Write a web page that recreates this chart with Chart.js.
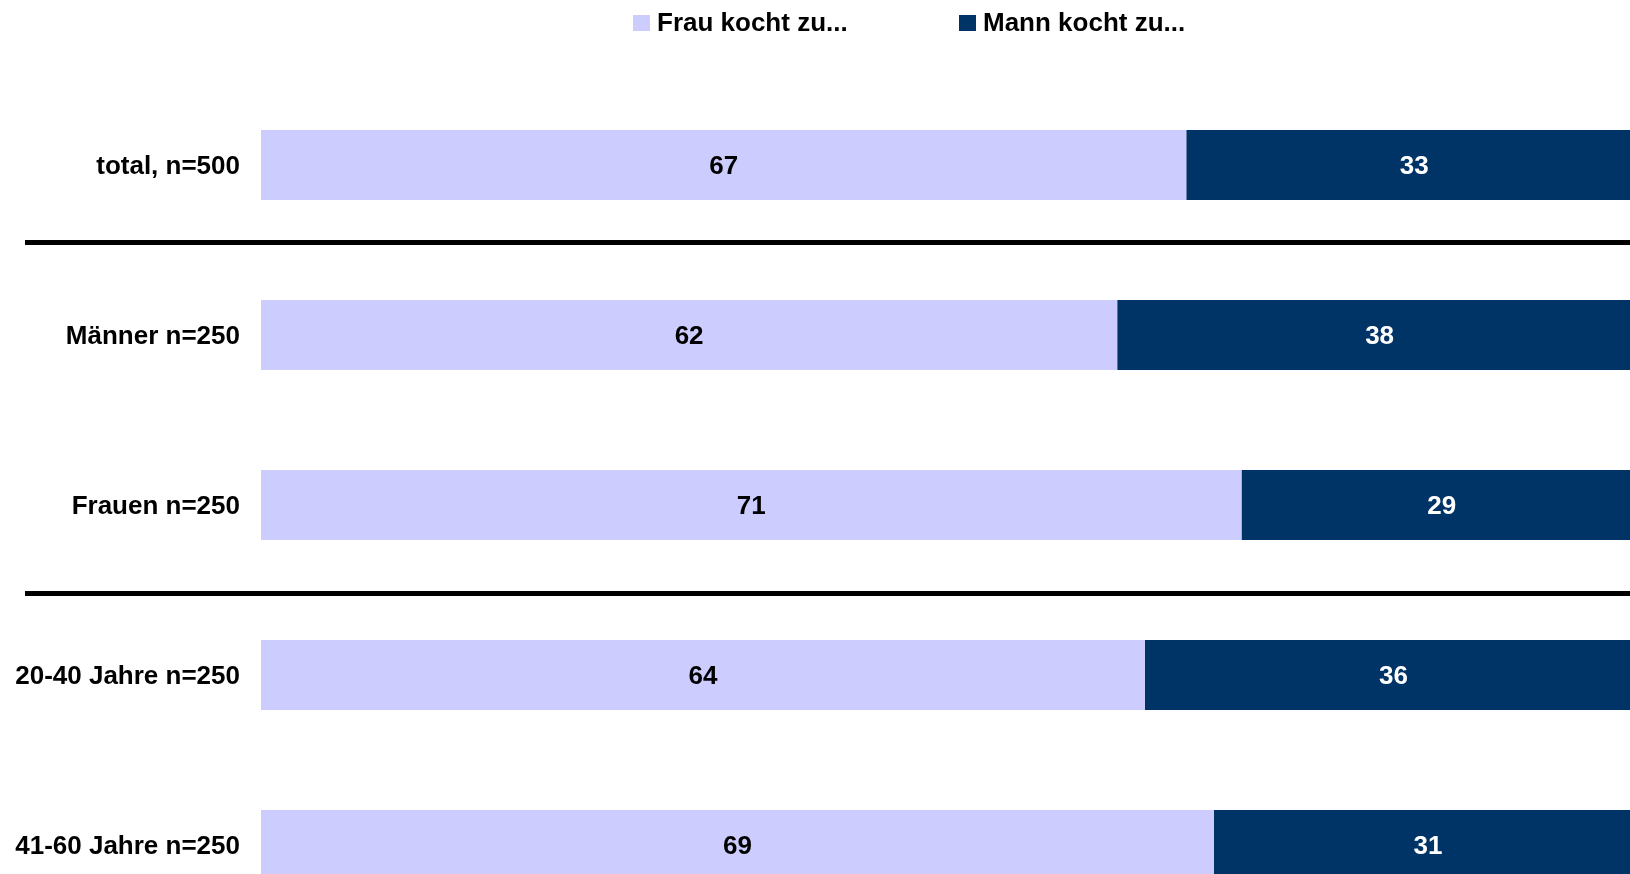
<!DOCTYPE html>
<html>
<head>
<meta charset="utf-8">
<script src="https://cdn.jsdelivr.net/npm/chart.js@4/dist/chart.umd.min.js"></script>
<style>
  html, body { margin: 0; padding: 0; background: #ffffff; overflow: hidden; }
  #c { display: block; }
</style>
</head>
<body>
<canvas id="c" width="1643" height="930" style="width:1643px;height:930px"></canvas>
<script>
const categories = ['total, n=500', 'Männer n=250', 'Frauen n=250', '20-40 Jahre n=250', '41-60 Jahre n=250'];
const seriesNames = ['Frau kocht zu...', 'Mann kocht zu...'];
const frauKocht = [67, 62, 71, 64, 69];
const mannKocht = [33, 38, 29, 36, 31];
const separatorsAfter = [0, 2];

const FONT = "'Liberation Sans', Arial, Helvetica, sans-serif";
Chart.defaults.font.family = FONT;

const valueLabels = {
  id: 'valueLabels',
  afterDatasetsDraw(chart) {
    const ctx = chart.ctx;
    ctx.save();
    ctx.font = 'bold 26px ' + FONT;
    ctx.textAlign = 'center';
    ctx.textBaseline = 'middle';
    chart.data.datasets.forEach((ds, di) => {
      const meta = chart.getDatasetMeta(di);
      meta.data.forEach((bar, i) => {
        const cx = (bar.x + bar.base) / 2;
        ctx.fillStyle = ds.labelColor;
        ctx.fillText(String(ds.data[i]), cx, bar.y + 2);
      });
    });
    ctx.restore();
  }
};

const separators = {
  id: 'separators',
  afterDraw(chart) {
    const ctx = chart.ctx;
    const y = chart.scales.y;
    const pxOffsets = [-8, 3];
    ctx.save();
    ctx.strokeStyle = '#000000';
    ctx.lineWidth = 5;
    separatorsAfter.forEach((i, k) => {
      const py = Math.round((y.getPixelForValue(i) + y.getPixelForValue(i + 1)) / 2 + pxOffsets[k]) + 0.5;
      ctx.beginPath();
      ctx.moveTo(25, py);
      ctx.lineTo(chart.width, py);
      ctx.stroke();
    });
    ctx.restore();
  }
};

const topLegend = {
  id: 'topLegend',
  afterDraw(chart) {
    const ctx = chart.ctx;
    const xs = [633, 959];
    ctx.save();
    ctx.font = 'bold 26px ' + FONT;
    ctx.textAlign = 'left';
    ctx.textBaseline = 'alphabetic';
    chart.data.datasets.forEach((ds, i) => {
      ctx.fillStyle = ds.backgroundColor;
      ctx.fillRect(xs[i], 15, 17, 16);
      ctx.fillStyle = '#000000';
      ctx.fillText(ds.label, xs[i] + 24, 31);
    });
    ctx.restore();
  }
};

new Chart(document.getElementById('c'), {
  type: 'bar',
  data: {
    labels: categories,
    datasets: [
      { label: seriesNames[0], data: frauKocht, backgroundColor: '#CCCCFF', labelColor: '#000000' },
      { label: seriesNames[1], data: mannKocht, backgroundColor: '#003366', labelColor: '#FFFFFF' }
    ]
  },
  options: {
    indexAxis: 'y',
    responsive: false,
    maintainAspectRatio: false,
    devicePixelRatio: 1,
    animation: false,
    datasets: { bar: { categoryPercentage: 1, barPercentage: 70 / 170, borderWidth: 0 } },
    layout: { padding: { top: 80, right: 1, bottom: 0, left: 0 } },
    plugins: { legend: { display: false }, tooltip: { enabled: false } },
    scales: {
      x: { stacked: true, min: 0, max: 100, display: false },
      y: {
        stacked: true,
        grid: { display: false, drawTicks: false },
        border: { display: false },
        ticks: { color: '#000000', font: { size: 26, weight: 'bold' }, padding: 21, labelOffset: 2 },
        afterFit(scale) { scale.width = 261; scale.paddingTop = 0; scale.paddingBottom = 0; }
      }
    }
  },
  plugins: [valueLabels, separators, topLegend]
});
</script>
</body>
</html>
